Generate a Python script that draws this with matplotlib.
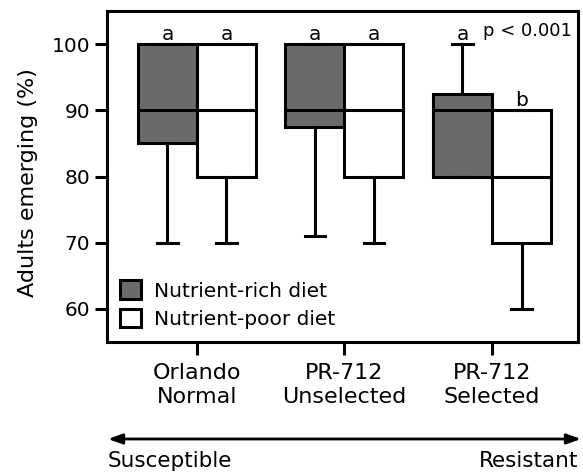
import matplotlib
matplotlib.use("Agg")
import matplotlib.pyplot as plt
from matplotlib.patches import Patch, FancyArrowPatch

plt.rcParams['font.family'] = ['DejaVu Sans']

categories = ["Orlando\nNormal", "PR-712\nUnselected", "PR-712\nSelected"]
series_names = ["Nutrient-rich diet", "Nutrient-poor diet"]

rich_whislo = [70, 71, 80]
rich_q1 = [85, 87.5, 80]
rich_med = [90, 90, 90]
rich_q3 = [100, 100, 92.5]
rich_whishi = [100, 100, 100]

poor_whislo = [70, 70, 60]
poor_q1 = [80, 80, 70]
poor_med = [90, 90, 80]
poor_q3 = [100, 100, 90]
poor_whishi = [100, 100, 90]

rich_letters = ["a", "a", "a"]
poor_letters = ["a", "a", "b"]

y_ticks = [60, 70, 80, 90, 100]
p_text = "p < 0.001"
ylabel = "Adults emerging (%)"
arrow_left = "Susceptible"
arrow_right = "Resistant"

rich_color = "#6a6a6a"
poor_color = "white"
lw = 2.2

fig = plt.figure(figsize=(5.83, 4.75), dpi=100)
ax = fig.add_axes([107/583, 1 - 342/475, 471/583, 331/475])

def stats(wl, q1, med, q3, wh):
    return [dict(whislo=a, q1=b, med=c, q3=d, whishi=e, fliers=[])
            for a, b, c, d, e in zip(wl, q1, med, q3, wh)]

xs = list(range(1, len(categories) + 1))
off = 0.2
bw = 0.4
common = dict(widths=bw, capwidths=0.14, showfliers=False, patch_artist=True,
              medianprops=dict(color='black', linewidth=lw),
              whiskerprops=dict(color='black', linewidth=lw),
              capprops=dict(color='black', linewidth=lw))

ax.bxp(stats(rich_whislo, rich_q1, rich_med, rich_q3, rich_whishi),
       positions=[x - off for x in xs],
       boxprops=dict(facecolor=rich_color, edgecolor='black', linewidth=lw),
       **common)
ax.bxp(stats(poor_whislo, poor_q1, poor_med, poor_q3, poor_whishi),
       positions=[x + off for x in xs],
       boxprops=dict(facecolor=poor_color, edgecolor='black', linewidth=lw),
       **common)

for i, x in enumerate(xs):
    ax.text(x - off, rich_whishi[i], rich_letters[i], ha='center', va='bottom', fontsize=14.5)
    ax.text(x + off, poor_whishi[i], poor_letters[i], ha='center', va='bottom', fontsize=14.5)

ax.text((572 - 107) / 471, (342 - 36) / 331, p_text, transform=ax.transAxes,
        ha='right', va='baseline', fontsize=13)

ax.set_xlim(0.39, 3.583)
ax.set_ylim(55, 105)
ax.set_xticks(xs)
ax.set_xticklabels(categories, fontsize=16, linespacing=1.25)
ax.set_yticks(y_ticks)
ax.set_yticklabels([str(v) for v in y_ticks], fontsize=14.5)
ax.tick_params(axis='both', direction='out', length=9, width=2.2, pad=3)
ax.tick_params(axis='x', pad=6)
for s in ax.spines.values():
    s.set_linewidth(2.2)

ax.set_ylabel(ylabel, fontsize=16)
ax.yaxis.set_label_coords(-0.146, 0.483)

handles = [Patch(facecolor=rich_color, edgecolor='black', linewidth=lw),
           Patch(facecolor=poor_color, edgecolor='black', linewidth=lw)]
ax.legend(handles, series_names, loc='lower left', frameon=False, fontsize=14.5,
          handlelength=1.05, handleheight=1.05, handletextpad=0.65,
          labelspacing=0.4, borderaxespad=0.45, borderpad=0.2)

ya = 1 - 439/475
arr = FancyArrowPatch((108/583, ya), (581/583, ya), transform=fig.transFigure,
                      arrowstyle='<|-|>,head_length=0.7,head_width=0.25',
                      color='black', linewidth=2, mutation_scale=12,
                      shrinkA=0, shrinkB=0)
fig.patches.append(arr)
fig.text(108/583, 1 - 467/475, arrow_left, ha='left', va='baseline', fontsize=15.5)
fig.text(578/583, 1 - 467/475, arrow_right, ha='right', va='baseline', fontsize=15.5)

fig.savefig("out.png", dpi=100)
